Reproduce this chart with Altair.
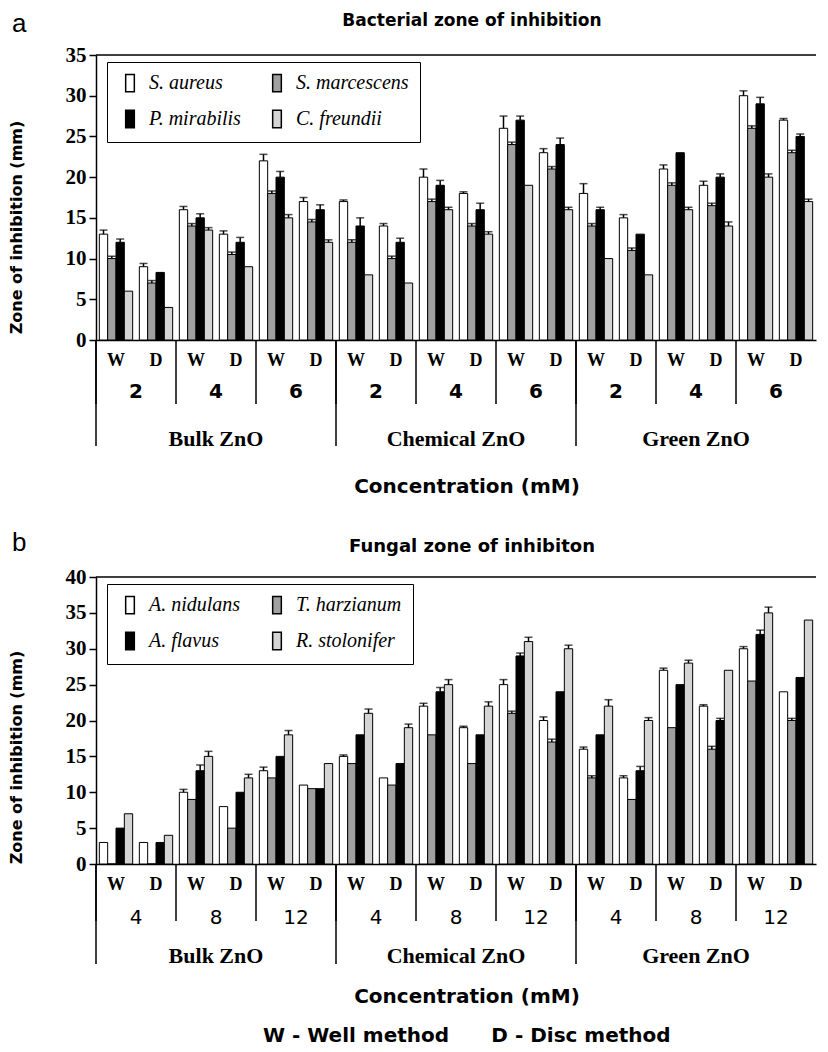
import altair as alt
import pandas as pd

materials = ["Bulk ZnO", "Chemical ZnO", "Green ZnO"]
methods = ["W", "D"]

# ---- panel a : bacteria ----
bact_conc = ["2", "4", "6"]
bact_species = ["S. aureus", "S. marcescens", "P. mirabilis", "C. freundii"]
s_aureus = [13, 9, 16, 13, 22, 17, 17, 14, 20, 18, 26, 23, 18, 15, 21, 19, 30, 27]
s_marcescens = [10, 7, 14, 10.5, 18, 14.5, 12, 10, 17, 14, 24, 21, 14, 11, 19, 16.5, 26, 23]
p_mirabilis = [12, 8.3, 15, 12, 20, 16, 14, 12, 19, 16, 27, 24, 16, 13, 23, 20, 29, 25]
c_freundii = [6, 4, 13.5, 9, 15, 12, 8, 7, 16, 13, 19, 16, 10, 8, 16, 14, 20, 17]
s_aureus_err = [0.5, 0.4, 0.4, 0.4, 0.8, 0.5, 0.2, 0.3, 1.0, 0.2, 1.5, 0.5, 1.2, 0.4, 0.5, 0.5, 0.6, 0.2]
s_marcescens_err = [0.3] * 18
p_mirabilis_err = [0.4, 0, 0.5, 0.6, 0.7, 0.6, 1.0, 0.5, 0.6, 0.8, 0.5, 0.8, 0.3, 0, 0, 0.4, 0.8, 0.3]
c_freundii_err = [0, 0, 0.3, 0, 0.4, 0.3, 0, 0, 0.3, 0.3, 0, 0.3, 0, 0, 0.3, 0.5, 0.4, 0.3]

# ---- panel b : fungi ----
fung_conc = ["4", "8", "12"]
fung_species = ["A. nidulans", "T. harzianum", "A. flavus", "R. stolonifer"]
a_nidulans = [3, 3, 10, 8, 13, 11, 15, 12, 22, 19, 25, 20, 16, 12, 27, 22, 30, 24]
t_harzianum = [0, 0, 9, 5, 12, 10.5, 14, 11, 18, 14, 21, 17, 12, 9, 19, 16, 25.5, 20]
a_flavus = [5, 3, 13, 10, 15, 10.5, 18, 14, 24, 18, 29, 24, 18, 13, 25, 20, 32, 26]
r_stolonifer = [7, 4, 15, 12, 18, 14, 21, 19, 25, 22, 31, 30, 22, 20, 28, 27, 35, 34]
a_nidulans_err = [0, 0, 0.4, 0, 0.5, 0, 0.2, 0, 0.4, 0.2, 0.7, 0.5, 0.3, 0.3, 0.3, 0.2, 0.3, 0]
t_harzianum_err = [0, 0, 0, 0, 0, 0, 0, 0, 0, 0, 0.3, 0.4, 0.3, 0, 0, 0.4, 0, 0.3]
a_flavus_err = [0, 0, 0.8, 0, 0, 0, 0, 0, 0.6, 0, 0.4, 0, 0, 0.6, 0, 0.3, 0.6, 0]
r_stolonifer_err = [0, 0, 0.7, 0.5, 0.6, 0, 0.6, 0.5, 0.7, 0.6, 0.6, 0.5, 0.9, 0.4, 0.4, 0, 0.8, 0]

fills = ["#ffffff", "#a0a0a0", "#000000", "#d4d4d4"]
W = 720
SERIF = "Liberation Serif"
SANS = "DejaVu Sans"


def panel(concs, species, series, errs, ymax, H, title, title_size, title_y, letter, letter_y,
          ytitle_y, conc_y, conc_weight, rule_short, rule_long, mat_y, xt_y,
          legend_xy, notes=None, note_y=None):
    keys = [f"{m}|{c}|{w}" for m in materials for c in concs for w in methods]
    rows = []
    for sp, vals, ers in zip(species, series, errs):
        for k, v, e in zip(keys, vals, ers):
            rows.append({"key": k, "species": sp, "value": v, "err": e, "top": v + e})
    df = pd.DataFrame(rows)

    xscale = alt.Scale(domain=keys, paddingInner=0, paddingOuter=0)
    xaxis = alt.Axis(title=None, labelExpr="split(datum.value, '|')[2]", labelAngle=0,
                     ticks=False, domainColor="black", domainWidth=1.5,
                     labelFont=SERIF, labelFontWeight="bold", labelFontSize=18,
                     labelColor="black", labelPadding=11)

    def X(bp=None):
        if bp is None:
            return alt.X("key:N", scale=xscale, axis=xaxis, sort=keys)
        return alt.X("key:N", scale=xscale, axis=xaxis, sort=keys, bandPosition=bp)

    yaxis = alt.Axis(title="Zone of inhibition (mm)", values=list(range(0, ymax + 1, 5)),
                     grid=False, tickSize=7, tickColor="black", domainColor="black",
                     domainWidth=1.5, tickWidth=1.5,
                     labelFont=SERIF, labelFontWeight="bold", labelFontSize=21,
                     labelColor="black", labelPadding=3,
                     titleFont=SANS, titleFontWeight="bold", titleFontSize=16,
                     titleColor="black", titleX=-72, titleY=ytitle_y)
    yscale = alt.Scale(domain=[0, ymax], nice=False)
    xoff = alt.XOffset("species:N", sort=species,
                       scale=alt.Scale(domain=species, paddingInner=0, paddingOuter=0.4))

    # legend is laid out column by column, so list entries column-wise
    leg_order = [species[0], species[2], species[1], species[3]]
    leg_fill = [fills[0], fills[2], fills[1], fills[3]]

    base = alt.Chart(df)
    bars = base.mark_bar(stroke="black", strokeWidth=1).encode(
        x=X(), xOffset=xoff,
        y=alt.Y("value:Q", scale=yscale, axis=yaxis),
        color=alt.Color("species:N",
                        scale=alt.Scale(domain=leg_order, range=leg_fill),
                        legend=alt.Legend(
                            title=None, orient="none", legendX=legend_xy[0], legendY=legend_xy[1],
                            columns=2, symbolType="M-0.5,-1H0.5V1H-0.5Z", symbolSize=300,
                            symbolStrokeColor="black", symbolStrokeWidth=1.5,
                            labelFont=SERIF, labelFontStyle="italic", labelFontSize=20,
                            labelColor="black", labelLimit=300,
                            strokeColor="black", fillColor="white", padding=11,
                            rowPadding=12, columnPadding=24, symbolOffset=2,
                            labelOffset=9)),
    )
    errdf = base.transform_filter("datum.err > 0")
    err_rule = errdf.mark_rule(color="black", strokeWidth=1.5).encode(
        x=X(), xOffset=xoff, y=alt.Y("value:Q", scale=yscale, axis=yaxis), y2="top:Q")
    err_cap = errdf.mark_tick(color="black", thickness=1.5, size=8).encode(
        x=X(), xOffset=xoff, y=alt.Y("top:Q", scale=yscale, axis=yaxis))

    w_keys = [f"{m}|{c}|W" for m in materials for c in concs]
    sep = pd.DataFrame({"key": w_keys,
                        "conc": [c for m in materials for c in concs],
                        "first": [c == concs[0] for m in materials for c in concs]})
    mid = pd.DataFrame({"key": [f"{m}|{concs[1]}|W" for m in materials], "mat": materials})

    sep_short = alt.Chart(sep).mark_rule(color="black", strokeWidth=1.5).encode(
        x=X(0), y=alt.value(H), y2=alt.value(H + rule_short))
    sep_long = alt.Chart(sep).transform_filter("datum.first").mark_rule(
        color="black", strokeWidth=1.5).encode(
        x=X(0), y=alt.value(H), y2=alt.value(H + rule_long))
    conc_txt = alt.Chart(sep).mark_text(font=SANS, fontWeight=conc_weight, fontSize=20,
                                         color="black", baseline="middle").encode(
        x=X(1), y=alt.value(H + conc_y), text="conc:N")
    mat_txt = alt.Chart(mid).mark_text(font=SERIF, fontWeight="bold", fontSize=22,
                                        color="black", baseline="middle").encode(
        x=X(1), y=alt.value(H + mat_y), text="mat:N")

    one = pd.DataFrame({"t": [0]})
    frame = alt.Chart(one).mark_rule(color="black", strokeWidth=1.5).encode(
        x=alt.value(0), x2=alt.value(W), y=alt.value(0))
    ttl = alt.Chart(one).mark_text(font=SANS, fontWeight="bold", fontSize=title_size,
                                   color="black", baseline="middle").encode(
        x=alt.value(376), y=alt.value(title_y), text=alt.value(title))
    let = alt.Chart(one).mark_text(font="Liberation Sans", fontSize=26, align="left",
                                   color="black", baseline="middle").encode(
        x=alt.value(-84), y=alt.value(letter_y), text=alt.value(letter))
    xt = alt.Chart(one).mark_text(font=SANS, fontWeight="bold", fontSize=20,
                                  color="black", baseline="middle").encode(
        x=alt.value(371), y=alt.value(H + xt_y), text=alt.value("Concentration (mM)"))
    layers = [bars, err_rule, err_cap, sep_short, sep_long, conc_txt, mat_txt,
              frame, ttl, let, xt]
    if notes:
        for nx, ntext in notes:
            layers.append(alt.Chart(one).mark_text(font=SANS, fontWeight="bold", fontSize=20,
                                                   color="black", baseline="middle").encode(
                x=alt.value(nx), y=alt.value(H + note_y), text=alt.value(ntext)))
    return alt.layer(*layers).properties(width=W, height=H)


pa = panel(bact_conc, bact_species, [s_aureus, s_marcescens, p_mirabilis, c_freundii],
           [s_aureus_err, s_marcescens_err, p_mirabilis_err, c_freundii_err],
           35, 285, "Bacterial zone of inhibition", 17, -34, "a", -31, 172,
           52, "bold", 64, 106, 99, 147, (11, 7))
pb = panel(fung_conc, fung_species, [a_nidulans, t_harzianum, a_flavus, r_stolonifer],
           [a_nidulans_err, t_harzianum_err, a_flavus_err, r_stolonifer_err],
           40, 287, "Fungal zone of inhibiton", 18, -30, "b", -34, 180,
           54, "normal", 57, 100, 92, 133, (11, 7),
           notes=[(260, "W - Well method"), (485, "D - Disc method")], note_y=172)

chart = alt.vconcat(pa, pb, spacing=33).resolve_scale(
    x="independent", y="independent", color="independent", xOffset="independent"
).resolve_legend(color="independent").properties(
    padding={"left": 0, "top": 3, "right": 2, "bottom": 2}
).configure_view(stroke=None)

chart.save("out.html", embed_options={"renderer": "svg", "actions": False})
